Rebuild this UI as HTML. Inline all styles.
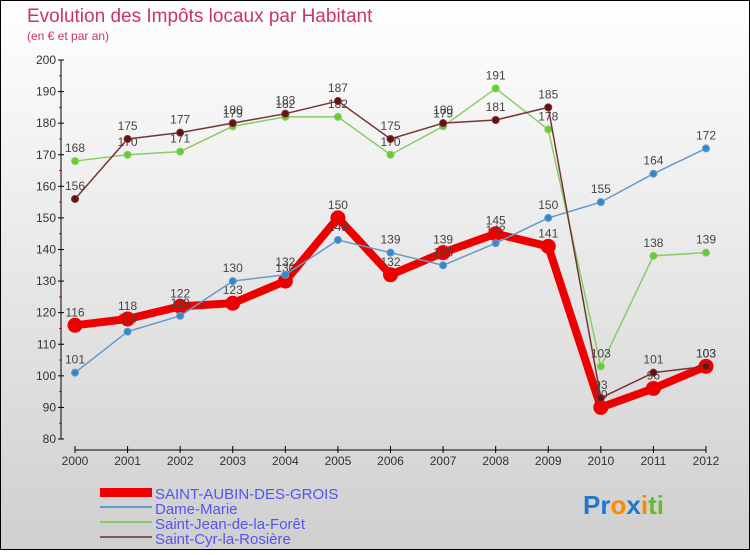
<!DOCTYPE html>
<html><head><meta charset="utf-8"><style>
html,body{margin:0;padding:0}
body{width:750px;height:550px;overflow:hidden;font-family:"Liberation Sans",sans-serif}
</style></head><body>
<svg width="750" height="550" xmlns="http://www.w3.org/2000/svg" id="svg">
<defs><linearGradient id="bg" x1="0" y1="0" x2="0" y2="1"><stop offset="0" stop-color="#ffffff"/><stop offset="1" stop-color="#cfcfcf"/></linearGradient></defs>
<rect x="0.5" y="0.5" width="749" height="549" fill="url(#bg)" stroke="#000"/>
<text x="27" y="22" font-size="19" fill="#cc3366">Evolution des Impôts locaux par Habitant</text>
<text x="27" y="40" font-size="12" fill="#cc3366">(en € et par an)</text>
<g id="axes"></g><g id="series"></g>
<g font-size="15" fill="#5555ee">
<rect x="100" y="488" width="52" height="9" fill="#ee0000"/>
<text x="155" y="499">SAINT-AUBIN-DES-GROIS</text>
<rect x="100" y="506" width="52" height="2" fill="#6699cc"/>
<text x="155" y="514">Dame-Marie</text>
<rect x="100" y="521" width="52" height="2" fill="#88cc66"/>
<text x="155" y="529">Saint-Jean-de-la-Forêt</text>
<rect x="100" y="536" width="52" height="2" fill="#885555"/>
<text x="155" y="544">Saint-Cyr-la-Rosière</text>
</g>
<text x="583" y="514" font-size="26" font-weight="bold"><tspan fill="#2277cc">Pr</tspan><tspan fill="#ff8800">o</tspan><tspan fill="#2277cc">x</tspan><tspan fill="#ff8800">i</tspan><tspan fill="#66bb33">ti</tspan></text>
</svg>
<script>
const years=[2000,2001,2002,2003,2004,2005,2006,2007,2008,2009,2010,2011,2012];
const yTicks=[80,90,100,110,120,130,140,150,160,170,180,190,200];
const saintAubin=[116,118,122,123,130,150,132,139,145,141,90,96,103];
const dameMarie=[101,114,119,130,132,143,139,135,142,150,155,164,172];
const saintJean=[168,170,171,179,182,182,170,179,191,178,103,138,139];
const saintCyr=[156,175,177,180,183,187,175,180,181,185,93,101,103];
const NS="http://www.w3.org/2000/svg";
const X=i=>75+i*(706-75)/12;
const Y=v=>439-(v-80)*(439-60)/120;
function mk(tag,attrs,parent){const e=document.createElementNS(NS,tag);for(const k in attrs)e.setAttribute(k,attrs[k]);parent.appendChild(e);return e;}
const ax=document.getElementById('axes');
const yl=mk('line',{x1:61,y1:60,x2:61,y2:439,stroke:'#000'},ax);


yTicks.forEach((t,i)=>{
 const y=Y(t);
 mk('line',{x1:58,y1:y,x2:64,y2:y,stroke:'#000'},ax);
 const tx=mk('text',{x:56,y:y+4,'font-size':12,fill:'#333','text-anchor':'end'},ax);
 
 
 tx.textContent=t;
 if(i<yTicks.length-1){mk('line',{x1:59,y1:Y(t+5),x2:62,y2:Y(t+5),stroke:'#e00'},ax);}
});
const xl=mk('line',{x1:75,y1:450,x2:706,y2:450,stroke:'#000'},ax);


years.forEach((yr,i)=>{
 mk('line',{x1:X(i),y1:446,x2:X(i),y2:453,stroke:'#000'},ax);
 const tx=mk('text',{x:X(i),y:465,'font-size':12,fill:'#333','text-anchor':'middle'},ax);
 
 
 tx.textContent=yr;
});
const sg=document.getElementById('series');
function draw(name,data,color,w,r,dot){
 const g=mk('g',{},sg);
 
 
 mk('polyline',{points:data.map((v,i)=>X(i)+','+Y(v)).join(' '),fill:'none',stroke:color,'stroke-width':w,'stroke-linejoin':'round'},g);
 data.forEach((v,i)=>{
  const c=mk('circle',{cx:X(i),cy:Y(v),r:r,fill:dot,stroke:color,'stroke-width':1},g);
  
  
  const t=mk('text',{x:X(i),y:Y(v)-9,'font-size':12,fill:'#444','text-anchor':'middle'},g);
  
  
  t.textContent=v;
 });
}
draw('series-saint-aubin',saintAubin,'#ee0000',8,7,'#ee0000');
draw('series-dame-marie',dameMarie,'#6699cc',1.5,3.5,'#3388cc');
draw('series-saint-jean',saintJean,'#88cc66',1.5,3.5,'#66cc33');
draw('series-saint-cyr',saintCyr,'#773333',1.5,3.5,'#661111');
</script>
</body></html>
